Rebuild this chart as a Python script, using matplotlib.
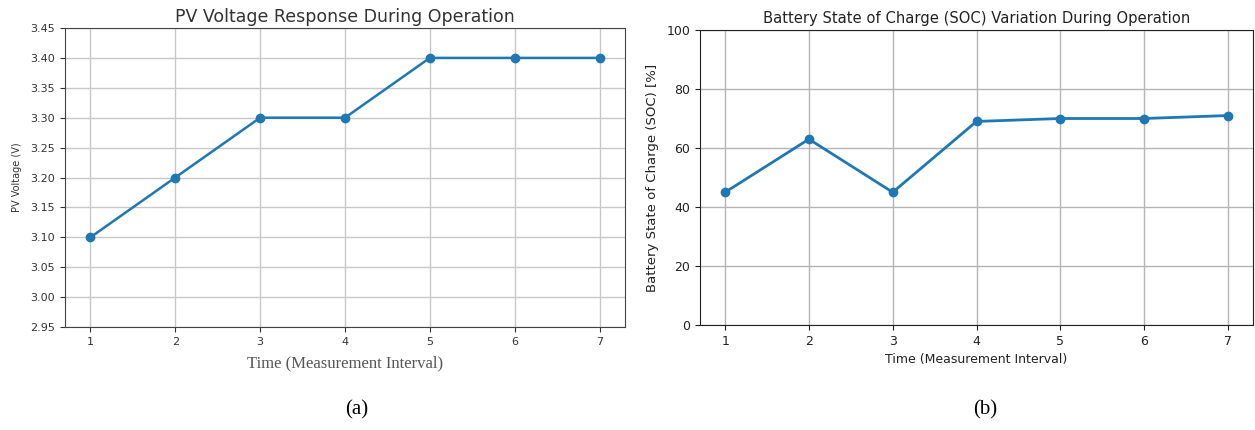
import matplotlib
matplotlib.use("Agg")
import matplotlib.pyplot as plt

time_steps = [1, 2, 3, 4, 5, 6, 7]
pv_voltage = [3.10, 3.20, 3.30, 3.30, 3.40, 3.40, 3.40]
soc = [45, 63, 45, 69, 70, 70, 71]
pv_yticks = [2.95, 3.00, 3.05, 3.10, 3.15, 3.20, 3.25, 3.30, 3.35, 3.40, 3.45]
soc_yticks = [0, 20, 40, 60, 80, 100]

W, H = 1255, 430
fig = plt.figure(figsize=(W / 100, H / 100), dpi=100)

def box(l, r, t, b):
    return [l / W, (H - b) / H, (r - l) / W, (b - t) / H]

# (a) PV voltage
ax1 = fig.add_axes(box(65, 625, 28, 327))
ax1.plot(time_steps, pv_voltage, marker='o', color='#1f77b4', linewidth=1.8, markersize=6)
ax1.set_ylim(2.95, 3.45)
ax1.set_yticks(pv_yticks)
ax1.set_yticklabels([f"{v:.2f}" for v in pv_yticks])
ax1.set_xticks(time_steps)
ax1.grid(True, color='#c8c8c8', linewidth=1.0)
ax1.set_axisbelow(True)
ax1.tick_params(labelsize=8, colors='#333333', labelcolor='#333333')
for s in ax1.spines.values():
    s.set_color('#444444')
ax1.set_title("PV Voltage Response During Operation", fontsize=12.5, color='#333333', pad=4)
ax1.set_ylabel("PV Voltage (V)", fontsize=7, color='#333333', labelpad=6)
ax1.set_xlabel("Time (Measurement Interval)", fontsize=12, family='Liberation Serif', color='#555555', labelpad=6)

# (b) Battery SOC
ax2 = fig.add_axes(box(700, 1253, 30, 325))
ax2.plot(time_steps, soc, marker='o', color='#1f77b4', linewidth=2.0, markersize=6)
ax2.set_ylim(0, 100)
ax2.set_yticks(soc_yticks)
ax2.set_xticks(time_steps)
ax2.grid(True, color='#b5b5b5', linewidth=1.0)
ax2.set_axisbelow(True)
ax2.tick_params(labelsize=9, colors='#222222', labelcolor='#222222')
for s in ax2.spines.values():
    s.set_color('#222222')
ax2.set_title("Battery State of Charge (SOC) Variation During Operation", fontsize=10.6, color='#222222', pad=5)
ax2.set_ylabel("Battery State of Charge (SOC) [%]", fontsize=9.5, color='#222222', labelpad=5)
ax2.set_xlabel("Time (Measurement Interval)", fontsize=9, color='#222222')

fig.text(357 / W, 1 - 410 / H, "(a)", fontsize=15, family='Liberation Serif', ha='center', va='center')
fig.text(985 / W, 1 - 410 / H, "(b)", fontsize=15, family='Liberation Serif', ha='center', va='center')

fig.savefig("out.png", dpi=100)
